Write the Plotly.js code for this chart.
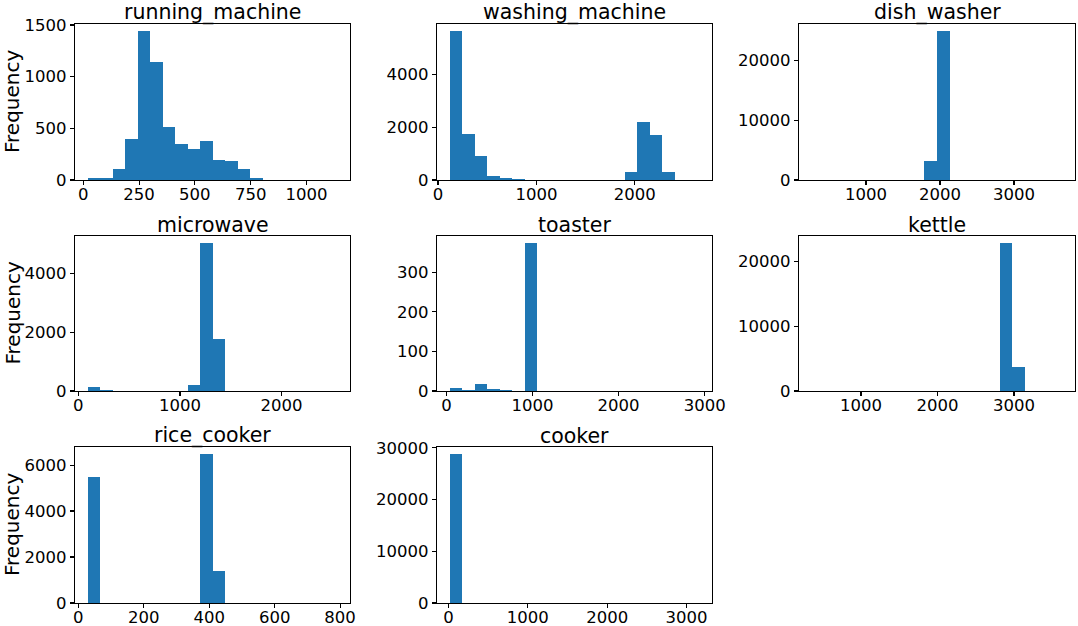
<!DOCTYPE html>
<html>
<head>
<meta charset="utf-8">
<script src="https://cdn.plot.ly/plotly-3.0.1.min.js"></script>
<style>
  html, body { margin: 0; padding: 0; background: #fff; }
  #chart { width: 1078px; height: 626px; }
</style>
</head>
<body>
<div id="chart"></div>
<script>
// appliance names, in panel order
const appliances = ["running_machine", "washing_machine", "dish_washer", "microwave",
                    "toaster", "kettle", "rice_cooker", "cooker"];

// 20 equal bins per appliance: first edge and bin width (W)
const binStart = [19, 117, 264.5, 90, 36, 354, 28, 12];
const binSize = [56, 127, 169.5, 123, 145.2, 164, 38.2, 157.6];

// counts per bin
const runningMachine = [18, 20, 110, 396, 1438, 1143, 516, 344, 302, 373, 195, 185, 104, 18, 3, 1, 0, 0, 0, 1];
const washingMachine = [5640, 1730, 930, 155, 78, 25, 5, 1, 0, 0, 0, 0, 0, 1, 290, 2200, 1710, 290, 4, 1];
const dishWasher = [1, 0, 0, 1, 0, 0, 2, 3, 5, 3190, 24820, 4, 2, 1, 0, 0, 0, 0, 0, 1];
const microwave = [125, 34, 2, 1, 0, 0, 0, 3, 210, 5017, 1751, 6, 2, 1, 0, 0, 0, 0, 0, 1];
const toaster = [8, 3, 18, 5, 3, 1, 373, 0, 0, 0, 0, 0, 0, 0, 0, 0, 0, 0, 0, 1];
const kettle = [1, 0, 0, 0, 0, 0, 0, 0, 0, 0, 0, 0, 2, 5, 20, 22770, 3740, 3, 1, 1];
const riceCooker = [5490, 0, 0, 0, 0, 0, 0, 0, 0, 6463, 1409, 0, 0, 0, 0, 0, 0, 0, 0, 1];
const cooker = [28720, 2, 1, 0, 0, 0, 0, 0, 0, 0, 0, 0, 0, 0, 0, 0, 0, 0, 0, 1];

const counts = [runningMachine, washingMachine, dishWasher, microwave, toaster, kettle, riceCooker, cooker];

// tick spacing per panel
const xTickStep = [250, 1000, 1000, 1000, 1000, 1000, 200, 1000];
const yTickStep = [500, 2000, 10000, 2000, 100, 10000, 2000, 10000];

const W = 1078, H = 626;
const colPx = [[75, 350], [437, 712], [799, 1075]];
const rowPx = [[24, 180], [236, 391], [447, 603]];

const traces = [];
const layout = {
  width: W,
  height: H,
  margin: { l: 0, r: 0, t: 0, b: 0 },
  paper_bgcolor: "#fff",
  plot_bgcolor: "#fff",
  showlegend: false,
  bargap: 0,
  font: { family: "DejaVu Sans, sans-serif", color: "#000", size: 16.5 },
  annotations: [],
};

appliances.forEach((name, i) => {
  const n = counts[i].length;
  const x = counts[i].map((_, k) => binStart[i] + binSize[i] * (k + 0.5));
  const lo = binStart[i];
  const hi = binStart[i] + binSize[i] * n;
  const pad = 0.05 * (hi - lo);
  const ymax = Math.max(...counts[i]) * 1.05;
  const col = i % 3;
  const row = Math.floor(i / 3);
  const sfx = i === 0 ? "" : String(i + 1);

  traces.push({
    type: "bar",
    x: x,
    y: counts[i],
    width: binSize[i],
    xaxis: "x" + sfx,
    yaxis: "y" + sfx,
    marker: { color: "#1f77b4", line: { width: 0 } },
    hoverinfo: "x+y",
  });

  const xd = [colPx[col][0] / W, colPx[col][1] / W];
  const yd = [1 - rowPx[row][1] / H, 1 - rowPx[row][0] / H];
  const axisStyle = {
    showgrid: false,
    zeroline: false,
    showline: true,
    mirror: true,
    linecolor: "#000",
    linewidth: 1.1,
    ticks: "outside",
    ticklen: 4,
    tickwidth: 1.1,
    tickcolor: "#000",
    tickfont: { size: 16.5, color: "#000" },
    tickformat: "d",
  };
  layout["xaxis" + sfx] = Object.assign({}, axisStyle, {
    domain: xd,
    anchor: "y" + sfx,
    range: [lo - pad, hi + pad],
    tick0: 0,
    dtick: xTickStep[i],
    ticklabelstandoff: -5,
  });
  layout["yaxis" + sfx] = Object.assign({}, axisStyle, {
    domain: yd,
    anchor: "x" + sfx,
    range: [0, ymax],
    tick0: 0,
    dtick: yTickStep[i],
  });

  layout.annotations.push({
    text: name,
    xref: "paper",
    yref: "paper",
    x: (xd[0] + xd[1]) / 2,
    y: yd[1],
    xanchor: "center",
    yanchor: "bottom",
    yshift: -2.5,
    showarrow: false,
    font: { size: 20.5, color: "#000" },
  });

  if (col === 0) {
    layout.annotations.push({
      text: "Frequency",
      xref: "paper",
      yref: "paper",
      x: 12 / W,
      y: (yd[0] + yd[1]) / 2,
      xanchor: "center",
      yanchor: "middle",
      textangle: -90,
      showarrow: false,
      font: { size: 20, color: "#000" },
    });
  }
});

Plotly.newPlot("chart", traces, layout, { displayModeBar: false, staticPlot: true });
</script>
</body>
</html>
